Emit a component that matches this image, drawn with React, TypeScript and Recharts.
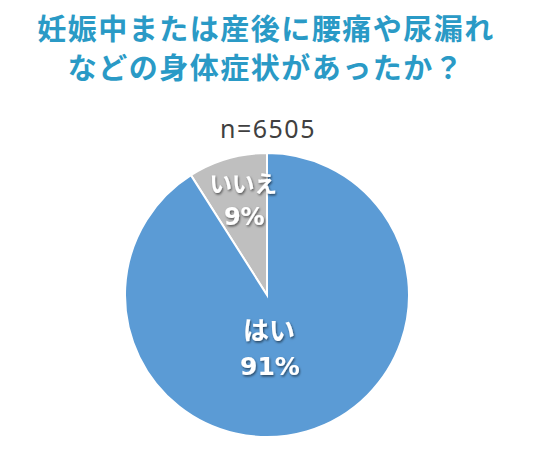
import React from "react";
import { PieChart, Pie, Cell } from "recharts";

const titleLines = ["妊娠中または産後に腰痛や尿漏れ", "などの身体症状があったか？"];
const sampleLabel = "n=6505";
const categories = ["いいえ", "はい"];
const values = [9, 91];
const colors = ["#bfbfbf", "#5b9bd5"];

const data = categories.map((name, i) => ({ name, value: values[i] }));

const RAD = Math.PI / 180;

const renderLabel = (props: any) => {
  const { cx, cy, midAngle, outerRadius, index, name, value } = props;
  let x: number;
  let y: number;
  let fs: number;
  let pfs: number;
  if (index === 0) {
    const r = outerRadius * 0.7;
    x = cx + r * Math.cos(-midAngle * RAD) + 4;
    y = cy + r * Math.sin(-midAngle * RAD);
    fs = 22.5;
    pfs = 24;
  } else {
    x = cx + 2;
    y = cy + outerRadius * 0.37;
    fs = 26;
    pfs = 25;
  }
  const gap = index === 0 ? 17.5 : 19;
  return (
    <g filter="url(#lblShadow)">
      <text
        x={x}
        y={y - gap}
        textAnchor="middle"
        dominantBaseline="central"
        fill="#ffffff"
        fontSize={fs}
        fontWeight="bold"
        fontFamily="'Noto Sans CJK JP', 'Noto Sans', sans-serif"
      >
        {name}
      </text>
      <text
        x={x + 1}
        y={y + gap}
        textAnchor="middle"
        dominantBaseline="central"
        fill="#ffffff"
        fontSize={pfs}
        fontWeight="bold"
        fontFamily="'DejaVu Sans', 'Noto Sans', sans-serif"
      >
        {value}%
      </text>
    </g>
  );
};

export default function App() {
  return (
    <div style={{ position: "absolute", left: 0, top: 0, width: 536, height: 459, background: "#ffffff" }}>
      <svg width={0} height={0} style={{ position: "absolute" }}>
        <defs>
          <filter id="lblShadow" x="-20%" y="-20%" width="140%" height="140%">
            <feDropShadow dx="1" dy="1.5" stdDeviation="1.2" floodColor="#000000" floodOpacity="0.55" />
          </filter>
        </defs>
      </svg>
      <div
        style={{
          position: "absolute",
          left: 0,
          top: 8,
          width: 532,
          textAlign: "center",
          color: "#2a9ac6",
          fontFamily: "'Noto Sans CJK JP', sans-serif",
          fontWeight: "bold",
          fontSize: 29,
          lineHeight: "39px",
          letterSpacing: 1.5,
        }}
      >
        {titleLines.map((t, i) => (
          <div key={i}>{t}</div>
        ))}
      </div>
      <div
        style={{
          position: "absolute",
          left: 0,
          top: 112,
          width: 536,
          textAlign: "center",
          color: "#404040",
          fontFamily: "'Noto Sans', sans-serif",
          fontSize: 25,
          lineHeight: "32px",
          letterSpacing: 1.5,
        }}
      >
        {sampleLabel}
      </div>
      <div style={{ position: "absolute", left: 0, top: 0 }}>
        <PieChart width={536} height={459}>
          <Pie
            data={data}
            dataKey="value"
            nameKey="name"
            cx={262}
            cy={290}
            outerRadius={142}
            startAngle={90}
            endAngle={450}
            stroke="#ffffff"
            strokeWidth={2}
            label={renderLabel}
            labelLine={false}
            isAnimationActive={false}
          >
            {data.map((d, i) => (
              <Cell key={d.name} fill={colors[i]} />
            ))}
          </Pie>
        </PieChart>
      </div>
    </div>
  );
}
